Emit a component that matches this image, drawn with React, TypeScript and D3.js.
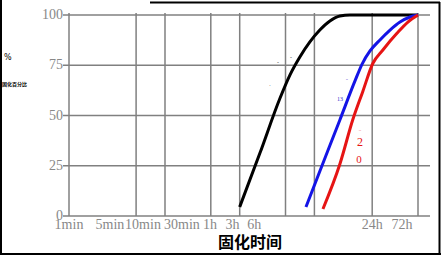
import React from "react";
import * as d3 from "d3";

// grid line positions (minutes)
const gridMinutes = [1, 5, 10, 30, 60, 180, 360, 1440, 4320];
// tick labels and where they sit along the time axis (minutes)
const tickLabels = ["1min", "5min", "10min", "30min", "1h", "3h", "6h", "24h", "72h"];
const tickLabelAt = [1, 2.67, 5.9, 15, 29.4, 50.4, 85, 1440, 2940];
const yTicks = [0, 25, 50, 75, 100];

// series: time (minutes) and cure percentage
const blackT = [60, 97.5, 158, 200, 254, 323, 410, 522, 663, 843, 4320];
const blackV = [4.5, 31.3, 58.7, 70.1, 79.1, 86.6, 92.5, 97, 99.5, 100, 100];
const blueT = [294, 411, 663, 953, 1130, 1366, 1735, 2208, 2807, 3568, 4320];
const blueV = [4.5, 22.4, 47.8, 67.2, 75.6, 82.1, 87.6, 92.5, 96.5, 99, 100];
const redT = [442, 665, 905, 1150, 1465, 1860, 2620, 3390, 4320];
const redV = [3.5, 26, 48, 62, 76, 82.6, 91, 96.5, 100];

const W = 442;
const H = 256;

export default function App() {
  const x = d3.scaleLog().domain([1, 4320]).range([69, 418]);
  const y = d3.scaleLinear().domain([0, 100]).range([216, 15]);
  const line = d3
    .line<[number, number]>()
    .x((d) => x(d[0]))
    .y((d) => y(d[1]))
    .curve(d3.curveMonotoneX);
  const series = [
    { t: blackT, v: blackV, c: "#000000" },
    { t: blueT, v: blueV, c: "#1414e6" },
    { t: redT, v: redV, c: "#e61414" },
  ];
  const grid = "#808080";
  const serif = "'Liberation Serif', 'DejaVu Serif', serif";
  return (
    <svg
      width={W}
      height={H}
      style={{ position: "absolute", left: 0, top: 0, background: "#fff" }}
    >
      {/* frame */}
      <line x1={1} y1={0} x2={1} y2={255} stroke="#000" strokeWidth={2} />
      <line x1={0} y1={254} x2={441} y2={254} stroke="#000" strokeWidth={2} />
      <line x1={439.5} y1={2} x2={439.5} y2={255} stroke="#000" strokeWidth={2} />
      <line x1={150} y1={2.5} x2={440} y2={2.5} stroke="#000" strokeWidth={2} />

      {/* horizontal grid */}
      {yTicks.map((t) => (
        <g key={"y" + t}>
          <line x1={63} x2={430} y1={y(t)} y2={y(t)} stroke={grid} strokeWidth={1.5} />
          <text
            x={63}
            y={y(t) + 4}
            textAnchor="end"
            fontFamily={serif}
            fontSize={14}
            fill="#888"
          >
            {t}
          </text>
        </g>
      ))}
      {/* vertical grid */}
      {gridMinutes.map((m) => (
        <line
          key={"x" + m}
          x1={x(m)}
          x2={x(m)}
          y1={13}
          y2={y(0)}
          stroke={grid}
          strokeWidth={1.5}
        />
      ))}
      {tickLabels.map((l, i) => (
        <text
          key={l}
          x={x(tickLabelAt[i])}
          y={229}
          textAnchor="middle"
          fontFamily={serif}
          fontSize={14}
          fill="#888"
        >
          {l}
        </text>
      ))}

      {/* curves */}
      {series.map((s, i) => (
        <path
          key={i}
          d={line(s.t.map((t, j) => [t, s.v[j]] as [number, number])) || ""}
          fill="none"
          stroke={s.c}
          strokeWidth={3}
        />
      ))}

      {/* stray labels */}
      <text x={360} y={146} textAnchor="middle" fontFamily={serif} fontSize={12} fill="#e61414">
        2
      </text>
      <text x={359} y={163} textAnchor="middle" fontFamily={serif} fontSize={11} fill="#e61414">
        0
      </text>
      <text x={360} y={131} textAnchor="middle" fontFamily={serif} fontSize={5} fill="#e61414">
        ..
      </text>
      <text x={340} y={101} textAnchor="middle" fontFamily={serif} fontSize={6} fill="#3333cc">
        13
      </text>
      <text x={347} y={82} textAnchor="middle" fontFamily={serif} fontSize={5} fill="#3333cc">
        ''
      </text>
      <text x={278} y={64} textAnchor="middle" fontFamily={serif} fontSize={6} fill="#333">
        -
      </text>
      <text x={291} y={59} textAnchor="middle" fontFamily={serif} fontSize={6} fill="#333">
        -
      </text>
      <text x={270} y={88} textAnchor="middle" fontFamily={serif} fontSize={5} fill="#333">
        '
      </text>

      {/* axis titles */}
      <text x={4} y={60} fontFamily="'DejaVu Sans', sans-serif" fontSize={8} fill="#000">
        %
      </text>
      <text
        x={2}
        y={86}
        fontFamily="'Noto Sans CJK SC', sans-serif"
        fontSize={5}
        fontWeight="bold"
        fill="#000"
      >
        固化百分比
      </text>
      <text
        x={250}
        y={248}
        textAnchor="middle"
        fontFamily="'Noto Sans CJK SC', sans-serif"
        fontSize={16}
        fontWeight="bold"
        fill="#000"
      >
        固化时间
      </text>
    </svg>
  );
}
